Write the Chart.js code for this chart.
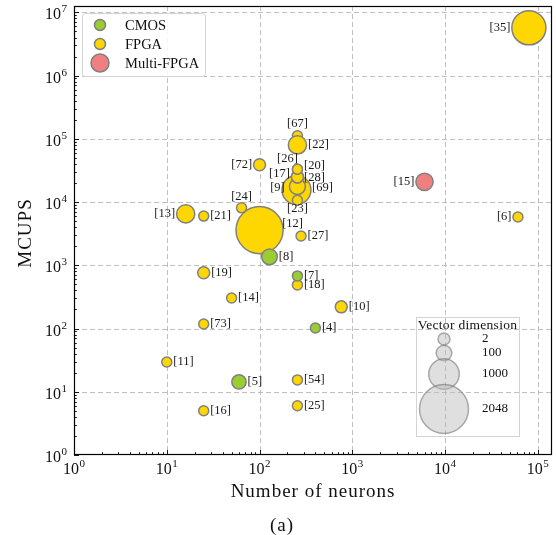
<!DOCTYPE html>
<html>
<head>
<meta charset="utf-8">
<script src="https://cdn.jsdelivr.net/npm/chart.js@4.4.1/dist/chart.umd.min.js"></script>
<style>
  html, body { margin: 0; padding: 0; background: #fff; }
</style>
</head>
<body>
<canvas id="chart" width="556" height="535"></canvas>
<script>
// ============== data ==============
const refs       = ['[35]', '[15]', '[6]', '[9]', '[69]', '[17]', '[28]', '[26]', '[20]', '[23]', '[67]', '[22]', '[72]', '[12]', '[24]', '[21]', '[13]', '[27]', '[8]', '[19]', '[7]', '[18]', '[14]', '[10]', '[73]', '[4]', '[11]', '[5]', '[54]', '[16]', '[25]'];
const neurons    = [80000, 6000, 61000, 250, 256, 256, 256, 256, 256, 256, 256, 256, 100, 100, 64, 25, 16, 280, 128, 25, 256, 256, 50, 760, 25, 400, 10, 60, 256, 25, 256];
const mcups      = [5.7e6, 2.09e4, 5.8e3, 1.55e4, 1.76e4, 2.5e4, 2.5e4, 3.3e4, 3.3e4, 1.07e4, 1.12e5, 8.0e4, 3.9e4, 3.6e3, 8.1e3, 6.0e3, 6.5e3, 2.9e3, 1.36e3, 760, 680, 490, 304, 220, 118, 102, 29.6, 14.3, 15.4, 5.0, 6.0];
const vectorDim  = [1200, 200, 1, 900, 120, 2, 2, 1, 1, 1, 1, 256, 2, 1940, 1, 1, 256, 1, 100, 2, 1, 1, 1, 2, 1, 1, 1, 64, 1, 1, 1];
const technology = ['FPGA', 'Multi-FPGA', 'FPGA', 'FPGA', 'FPGA', 'FPGA', 'FPGA', 'FPGA', 'FPGA', 'FPGA', 'FPGA', 'FPGA', 'FPGA', 'FPGA', 'FPGA', 'FPGA', 'FPGA', 'FPGA', 'CMOS', 'FPGA', 'CMOS', 'FPGA', 'FPGA', 'FPGA', 'FPGA', 'CMOS', 'FPGA', 'CMOS', 'FPGA', 'FPGA', 'FPGA'];

const techNames = ['CMOS', 'FPGA', 'Multi-FPGA'];
const sizeLegendDims = [2, 100, 1000, 2048];
const xExponents = [0, 1, 2, 3, 4, 5];
const yExponents = [0, 1, 2, 3, 4, 5, 6, 7];

// ============== style ==============
const SERIF = '"Liberation Serif", "DejaVu Serif", serif';
const techColors = { 'CMOS': '#9acd32', 'FPGA': '#ffd700', 'Multi-FPGA': '#f08080' };
const EDGE = '#808080';
const SIZE_KEYS = [1, 2, 100, 1000, 2048];
const SIZE_RADII = [5, 6, 7.8, 15.3, 24.5];

function radiusFor(d) {
  if (d <= SIZE_KEYS[0]) return SIZE_RADII[0];
  for (let i = 1; i < SIZE_KEYS.length; i++) {
    if (d <= SIZE_KEYS[i]) {
      const t = (d - SIZE_KEYS[i - 1]) / (SIZE_KEYS[i] - SIZE_KEYS[i - 1]);
      return SIZE_RADII[i - 1] + t * (SIZE_RADII[i] - SIZE_RADII[i - 1]);
    }
  }
  return SIZE_RADII[SIZE_RADII.length - 1];
}

// where each label sits: 'r' right, 'l' left, 't' above, 'b' below, or [dx, dy] centre offset
const labelSide = {
  '[35]': 'l', '[15]': 'l', '[6]': 'l', '[72]': 'l', '[13]': 'l',
  '[67]': 't', '[24]': 't', '[23]': 'b',
  '[26]': [-10, -11], '[20]': [17, -4], '[17]': [-18, -3], '[28]': [17, 1],
  '[9]': [-19, -2], '[69]': [25, 1], '[12]': [33, -6],
};

// ============== datasets ==============
const datasets = techNames.map(name => {
  const pts = [];
  refs.forEach((ref, i) => {
    if (technology[i] !== name) return;
    pts.push({ x: neurons[i], y: mcups[i], r: radiusFor(vectorDim[i]), ref });
  });
  return {
    label: name, data: pts,
    backgroundColor: techColors[name], borderColor: EDGE, borderWidth: 1.5,
    hoverBackgroundColor: techColors[name], hoverBorderColor: EDGE, hoverBorderWidth: 1.5,
  };
});

// ============== drawing helpers ==============
function drawPow(ctx, exp, x, y, align) {
  ctx.font = '16px ' + SERIF;
  const wb = ctx.measureText('10').width;
  ctx.font = '11px ' + SERIF;
  const ws = ctx.measureText(String(exp)).width;
  const total = wb + 0.5 + ws;
  const x0 = align === 'center' ? x - total / 2 : x - total;
  ctx.textAlign = 'left';
  ctx.textBaseline = 'alphabetic';
  ctx.font = '16px ' + SERIF;
  ctx.fillText('10', x0, y);
  ctx.font = '11px ' + SERIF;
  ctx.fillText(String(exp), x0 + wb + 0.5, y - 7);
}

function circle(ctx, x, y, r, fill, stroke, lw) {
  ctx.beginPath();
  ctx.arc(x, y, r, 0, Math.PI * 2);
  ctx.fillStyle = fill; ctx.fill();
  ctx.lineWidth = lw; ctx.strokeStyle = stroke; ctx.stroke();
}

const gridPlugin = {
  id: 'logGrid',
  beforeDatasetsDraw(chart) {
    const { ctx, chartArea: a, scales: { x, y } } = chart;
    ctx.save();
    ctx.strokeStyle = '#b0b0b0';
    ctx.lineWidth = 0.8;
    ctx.setLineDash([5, 3]);
    xExponents.forEach(e => {
      const px = Math.round(x.getPixelForValue(Math.pow(10, e))) + 0.5;
      if (px <= a.left + 1) return;
      ctx.beginPath(); ctx.moveTo(px, a.top); ctx.lineTo(px, a.bottom); ctx.stroke();
    });
    yExponents.forEach(e => {
      const py = Math.round(y.getPixelForValue(Math.pow(10, e))) + 0.5;
      if (py >= a.bottom - 1) return;
      ctx.beginPath(); ctx.moveTo(a.left, py); ctx.lineTo(a.right, py); ctx.stroke();
    });
    ctx.restore();
  },
};

const decorPlugin = {
  id: 'decor',
  afterDatasetsDraw(chart) {
    const { ctx, chartArea: a, scales: { x, y } } = chart;
    ctx.save();

    // frame
    ctx.strokeStyle = '#000';
    ctx.lineWidth = 1.2;
    ctx.strokeRect(a.left + 0.5, a.top + 0.5, a.right - a.left - 1, a.bottom - a.top - 1);

    // inward tick marks on the bottom and left axes
    ctx.lineWidth = 0.9;
    xExponents.forEach(e => {
      for (let m = 1; m <= 9; m++) {
        const v = m * Math.pow(10, e);
        if (v > x.max) break;
        const px = Math.round(x.getPixelForValue(v)) + 0.5;
        const len = m === 1 ? 5 : 2.8;
        ctx.beginPath(); ctx.moveTo(px, a.bottom); ctx.lineTo(px, a.bottom - len); ctx.stroke();
      }
    });
    yExponents.forEach(e => {
      for (let m = 1; m <= 9; m++) {
        const v = m * Math.pow(10, e);
        if (v > y.max) break;
        const py = Math.round(y.getPixelForValue(v)) + 0.5;
        const len = m === 1 ? 5 : 2.8;
        ctx.beginPath(); ctx.moveTo(a.left, py); ctx.lineTo(a.left + len, py); ctx.stroke();
      }
    });

    // tick labels
    ctx.fillStyle = '#111';
    xExponents.forEach(e => drawPow(ctx, e, x.getPixelForValue(Math.pow(10, e)), a.bottom + 19, 'center'));
    yExponents.forEach(e => drawPow(ctx, e, a.left - 7, y.getPixelForValue(Math.pow(10, e)) + 7, 'right'));

    // axis titles
    ctx.font = '19px ' + SERIF;
    ctx.letterSpacing = '1px';
    ctx.textAlign = 'center';
    ctx.textBaseline = 'alphabetic';
    ctx.fillText('Number of neurons', (a.left + a.right) / 2, 497);
    ctx.fillText('(a)', 282, 531);
    ctx.save();
    ctx.translate(30.5, 233);
    ctx.rotate(-Math.PI / 2);
    ctx.fillText('MCUPS', 0, 0);
    ctx.restore();
    ctx.letterSpacing = '0px';

    // point labels
    ctx.font = '12.5px ' + SERIF;
    ctx.fillStyle = '#1a1a1a';
    ctx.textBaseline = 'middle';
    chart.data.datasets.forEach((ds, di) => {
      const meta = chart.getDatasetMeta(di);
      meta.data.forEach((el, i) => {
        const ref = ds.data[i].ref;
        const r = el.options.radius;
        const side = labelSide[ref] || 'r';
        if (Array.isArray(side)) {
          ctx.textAlign = 'center';
          ctx.fillText(ref, el.x + side[0], el.y + side[1]);
        } else if (side === 'r') {
          ctx.textAlign = 'left';
          ctx.fillText(ref, el.x + r + 1.5, el.y);
        } else if (side === 'l') {
          ctx.textAlign = 'right';
          ctx.fillText(ref, el.x - r - 1.5, el.y);
        } else if (side === 't') {
          ctx.textAlign = 'center';
          ctx.fillText(ref, el.x, el.y - r - 6.5);
        } else {
          ctx.textAlign = 'center';
          ctx.fillText(ref, el.x, el.y + r + 4);
        }
      });
    });

    // technology legend
    ctx.beginPath();
    ctx.roundRect(82.5, 13.5, 123, 63, 3);
    ctx.fillStyle = 'rgba(255,255,255,0.85)';
    ctx.fill();
    ctx.strokeStyle = '#d4d4d4';
    ctx.lineWidth = 1;
    ctx.stroke();
    const legendR = [5.5, 5.5, 9];
    techNames.forEach((name, i) => {
      const cy = 25 + i * 19;
      circle(ctx, 100, cy, legendR[i], techColors[name], EDGE, 1.5);
      ctx.fillStyle = '#111';
      ctx.font = '14.5px ' + SERIF;
      ctx.textAlign = 'left';
      ctx.textBaseline = 'middle';
      ctx.fillText(name, 125, cy + 1);
    });

    // vector dimension legend
    ctx.strokeStyle = '#d4d4d4';
    ctx.lineWidth = 1;
    ctx.strokeRect(416.5, 317.5, 103, 119);
    ctx.fillStyle = '#111';
    ctx.font = '13.5px ' + SERIF;
    ctx.letterSpacing = '0.3px';
    ctx.textAlign = 'center';
    ctx.fillText('Vector dimension', 467.5, 325);
    ctx.letterSpacing = '0px';
    const sizeCy = [339, 353, 374, 409];
    sizeLegendDims.forEach((d, i) => {
      circle(ctx, 444, sizeCy[i], radiusFor(d), 'rgba(185,185,185,0.45)', 'rgba(110,110,110,0.55)', 1.5);
    });
    ctx.fillStyle = '#111';
    ctx.font = '13px ' + SERIF;
    ctx.textAlign = 'left';
    sizeLegendDims.forEach((d, i) => ctx.fillText(String(d), 482, sizeCy[i]));

    ctx.restore();
  },
};

// ============== chart ==============
new Chart(document.getElementById('chart').getContext('2d'), {
  type: 'bubble',
  data: { datasets },
  options: {
    responsive: false,
    animation: false,
    events: [],
    layout: { autoPadding: false, padding: { top: 6, right: 4, left: 0, bottom: 0 } },
    plugins: { legend: { display: false }, tooltip: { enabled: false } },
    scales: {
      x: {
        type: 'logarithmic', min: 1, max: 1.42e5,
        afterFit: (s) => { s.height = 80; },
        ticks: { display: false },
        grid: { display: false, drawTicks: false },
        border: { display: false },
      },
      y: {
        type: 'logarithmic', min: 1, max: 1.26e7,
        afterFit: (s) => { s.width = 74; },
        ticks: { display: false },
        grid: { display: false, drawTicks: false },
        border: { display: false },
      },
    },
  },
  plugins: [gridPlugin, decorPlugin],
});
</script>
</body>
</html>
